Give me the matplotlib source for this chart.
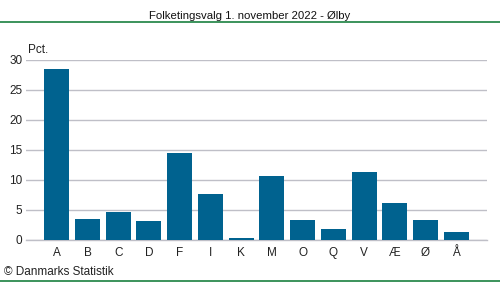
import matplotlib
matplotlib.use("Agg")
import matplotlib.pyplot as plt
from matplotlib.lines import Line2D

plt.rcParams["font.family"] = ["Liberation Sans", "DejaVu Sans"]

# party letters and vote share (pct.)
parties = ["A", "B", "C", "D", "F", "I", "K", "M", "O", "Q", "V", "Æ", "Ø", "Å"]
shares = [28.5, 3.5, 4.7, 3.2, 14.5, 7.7, 0.3, 10.7, 3.3, 1.8, 11.3, 6.2, 3.3, 1.3]
yticks = [0, 5, 10, 15, 20, 25, 30]

BAR = "#00628f"
GRID = "#bfbfc7"
GREEN = "#1a8040"

fig = plt.figure(figsize=(5.0, 2.82), dpi=100)
ax = fig.add_axes([0.052, 0.149, 0.922, 0.640])

x = list(range(len(parties)))
ax.bar(x, shares, width=0.81, color=BAR, zorder=3)

ax.set_xlim(-1, len(parties))
ax.set_ylim(0, 30)
ax.set_yticks(yticks)
ax.set_xticks(x)
ax.set_xticklabels(parties)
ax.yaxis.grid(True, color=GRID, linewidth=1.0, zorder=0)
ax.tick_params(axis="both", length=0, labelsize=8.5, colors="#222222")
ax.tick_params(axis="x", pad=5)
ax.tick_params(axis="y", pad=2.5)
for side in ["top", "right", "left"]:
    ax.spines[side].set_visible(False)
ax.spines["bottom"].set_color(GRID)
ax.spines["bottom"].set_linewidth(1.0)

ax.text(0.004, 1.02, "Pct.", transform=ax.transAxes, fontsize=8.5,
        color="#222222", ha="left", va="bottom")

fig.text(0.5, 0.945, "Folketingsvalg 1. november 2022 - Ølby", ha="center",
         va="center", fontsize=8.2, color="#111111")
fig.text(0.008, 0.035, "© Danmarks Statistik", ha="left", va="center",
         fontsize=8.5, color="#222222")

fig.add_artist(Line2D([0, 1], [0.922, 0.922], transform=fig.transFigure,
                      color=GREEN, linewidth=1.2))
fig.add_artist(Line2D([0, 1], [0.003, 0.003], transform=fig.transFigure,
                      color=GREEN, linewidth=1.2))

fig.savefig("out.png", dpi=100)
